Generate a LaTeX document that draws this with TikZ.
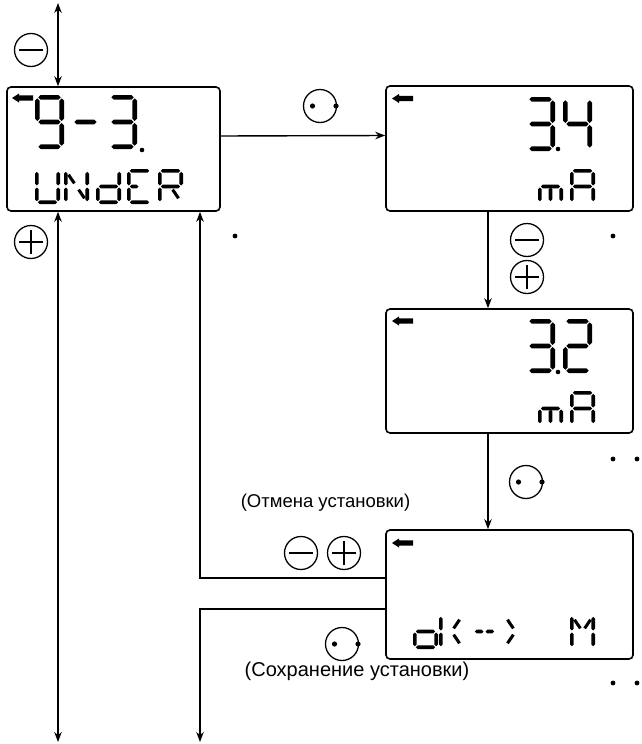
\documentclass[tikz,border=0pt]{standalone}
\usepackage{fontspec}
\newfontfamily\labelfont{Liberation Sans}
\usetikzlibrary{arrows.meta,calc}

% LCD segment glyphs (x to the right, y downwards)
\newcommand\segT{4.6}
\newcommand\segG{1}
\newcommand\segD{3.8}
\newcommand\hseg[3]{\fill (#1+\segG,#3) -- (#1+\segG+\segT/2,#3-\segT/2) -- (#2-\segG-\segT/2,#3-\segT/2) -- (#2-\segG,#3) -- (#2-\segG-\segT/2,#3+\segT/2) -- (#1+\segG+\segT/2,#3+\segT/2) -- cycle;}
\newcommand\vseg[3]{\fill (#1,#2+\segG) -- (#1+\segT/2,#2+\segG+\segT/2) -- (#1+\segT/2,#3-\segG-\segT/2) -- (#1,#3-\segG) -- (#1-\segT/2,#3-\segG-\segT/2) -- (#1-\segT/2,#2+\segG+\segT/2) -- cycle;}
\newcommand\dseg[4]{\draw[line width=\segD pt] ($(#1,#2)!0.25!(#3,#4)$) -- ($(#1,#2)!0.8!(#3,#4)$);}
\newcommand\lcdsega{\hseg{\clx}{\crx}{\cty}}
\newcommand\lcdsegd{\hseg{\clx}{\crx}{\cby}}
\newcommand\lcdsegg{\hseg{\clx}{\crx}{\cmy}}
\newcommand\lcdsegp{\hseg{\clx}{\ccx}{\cmy}}
\newcommand\lcdsegq{\hseg{\ccx}{\crx}{\cmy}}
\newcommand\lcdsegf{\vseg{\clx}{\cty}{\cmy}}
\newcommand\lcdsege{\vseg{\clx}{\cmy}{\cby}}
\newcommand\lcdsegb{\vseg{\crx}{\cty}{\cmy}}
\newcommand\lcdsegc{\vseg{\crx}{\cmy}{\cby}}
\newcommand\lcdsegl{\vseg{\ccx}{\cmy}{\cby}}
\newcommand\lcdsegh{\dseg{\clx}{\cty}{\ccx}{\cmy}}
\newcommand\lcdsegj{\dseg{\crx}{\cty}{\ccx}{\cmy}}
\newcommand\lcdsegk{\dseg{\clx}{\cby}{\ccx}{\cmy}}
\newcommand\lcdsegm{\dseg{\crx}{\cby}{\ccx}{\cmy}}
\newcommand\lcdchar[6]{%
  \def\segT{#5}\pgfmathsetmacro\segD{0.85*#5}%
  \pgfmathsetmacro\clx{#1+#5/2}\pgfmathsetmacro\crx{#1+#3-#5/2}%
  \pgfmathsetmacro\ccx{#1+#3/2}\pgfmathsetmacro\cmy{#2+#4/2}%
  \pgfmathsetmacro\cty{#2+#5/2}\pgfmathsetmacro\cby{#2+#4-#5/2}%
  \foreach \s in {#6}{\csname lcdseg\s\endcsname}}
\newcommand\bigchar[3]{\lcdchar{#1}{#2}{29}{54}{4.6}{#3}}
\newcommand\smallchar[3]{\lcdchar{#1}{#2}{25}{35}{3.6}{#3}}
\newcommand\lcddot[2]{\fill (#1,#2) circle (2.3pt);}
\newcommand\lcdarrow[2]{\fill (#1,#2) -- (#1+7,#2-4.5) -- (#1+7,#2-2.6) -- (#1+21,#2-2.6) -- (#1+21,#2+2.6) -- (#1+7,#2+2.6) -- (#1+7,#2+4.5) -- cycle;}

\begin{document}
\begin{tikzpicture}[x=1pt,y=-1pt,>={Stealth[length=10pt,width=7.5pt]}]
	\tikzset{lcd/.style={draw,rounded corners=4pt,line width=1.6pt,inner sep=0pt},
	         key/.style={circle,draw,line width=1.3pt,minimum size=33pt,inner sep=0pt},
	         minus/.style={key,path picture={\draw[line width=1.3pt] ([xshift=-12pt]path picture bounding box.center) -- ([xshift=12pt]path picture bounding box.center);}},
	         plus/.style={key,path picture={\draw[line width=1.3pt] ([xshift=-12pt]path picture bounding box.center) -- ([xshift=12pt]path picture bounding box.center);
	            \draw[line width=1.3pt] ([yshift=-12pt]path picture bounding box.center) -- ([yshift=12pt]path picture bounding box.center);}},
	         link/.style={line width=1.4pt},
	         caption/.style={font=\labelfont\fontsize{18.5}{22}\selectfont}}
	\useasboundingbox (0,0) rectangle (642,744);
	\node[lcd,minimum width=213pt,minimum height=124pt] (dispA) at (113.5,149) {};
	\node[lcd,minimum width=247pt,minimum height=125pt] (dispB) at (509.5,148.5) {};
	\node[lcd,minimum width=247pt,minimum height=124pt] (dispC) at (509.5,371) {};
	\node[lcd,minimum width=247pt,minimum height=129pt] (dispD) at (509.5,594.5) {};
	\coordinate (topL) at (58,3);
	\coordinate (endL) at (58,742);
	\coordinate (endS) at (200,742);
	\draw[link,<->] (topL) -- (topL |- dispA.north);
	\draw[link,<->] (endL |- dispA.south) -- (endL);
	\draw[link,->] ([yshift=13pt]dispA.east) -- ([yshift=13pt]dispB.west);
	\draw[link,->] ([xshift=-21.5pt]dispB.south) -- ([xshift=-21.5pt]dispC.north);
	\draw[link,->] ([xshift=-21.5pt]dispC.south) -- ([xshift=-21.5pt]dispD.north);
	\draw[link,->] ([yshift=16.5pt]dispD.west) -| ([xshift=86.5pt]dispA.south);
	\draw[link,->] ([yshift=-14.5pt]dispD.west) -| (endS);
	% keys
	\node[minus] (minusTop) at (31,50) {};
	\node[plus] (plusA) at (31,242) {};
	\node[key] (enterAB) at (320,106) {};
	\node[minus] (minusB) at (527,240) {};
	\node[plus] (plusB) at (527,277) {};
	\node[key] (enterCD) at (526,482) {};
	\node[minus] (minusD) at (301,553) {};
	\node[plus] (plusD) at (344,553) {};
	\node[key] (enterSave) at (342,644) {};
	\foreach \k in {enterAB,enterCD,enterSave}{
		\fill ([xshift=-7.5pt]\k.center) circle (2.6pt);
		\fill ([xshift=16pt]\k.center) circle (2.6pt);}
	\foreach \p in {(235,236),(613,236),(613,459),(637,459),(613,683),(637,683)}
		\fill \p circle (2.4pt);
	\node[caption] (cancelText) at (325.5,503) {(Отмена установки)};
	\node[caption,font=\labelfont\fontsize{20}{24}\selectfont] (saveText) at (357,671) {(Сохранение установки)};
	% display A
	\lcdarrow{12}{98}
	\bigchar{35}{95}{a,b,c,d,f,g}
	\bigchar{71}{95}{g}
	\bigchar{108}{95}{a,b,c,d,g}
	\lcddot{142}{150}
	\smallchar{35}{169}{b,c,d,e,f}
	\smallchar{64}{169}{b,c,e,f,h,m}
	\smallchar{96}{169}{b,c,d,e,g}
	\smallchar{127}{169}{a,d,e,f,p}
	\smallchar{158}{169}{a,b,e,f,g,m}
	% display B
	\lcdarrow{392}{98.5}
	\bigchar{526}{97}{a,b,c,d,g}
	\bigchar{563}{97}{b,c,f,g}
	\lcddot{558}{149}
	\smallchar{538}{169}{c,e,g,l}
	\smallchar{570}{169}{a,b,c,e,f,g}
	% display C
	\lcdarrow{392}{321}
	\bigchar{526}{319}{a,b,c,d,g}
	\bigchar{563}{319}{a,b,d,e,g}
	\lcddot{558}{372}
	\smallchar{538}{391}{c,e,g,l}
	\smallchar{570}{391}{a,b,c,e,f,g}
	% display D
	\lcdarrow{392}{543}
	\smallchar{413}{614}{c,d,e,g}
	\smallchar{439}{614}{e,f,j,m}
	\smallchar{472}{614}{p,q}
	\smallchar{503}{614}{h,k}
	\smallchar{570}{614}{b,c,e,f,h,j}
\end{tikzpicture}
\end{document}
